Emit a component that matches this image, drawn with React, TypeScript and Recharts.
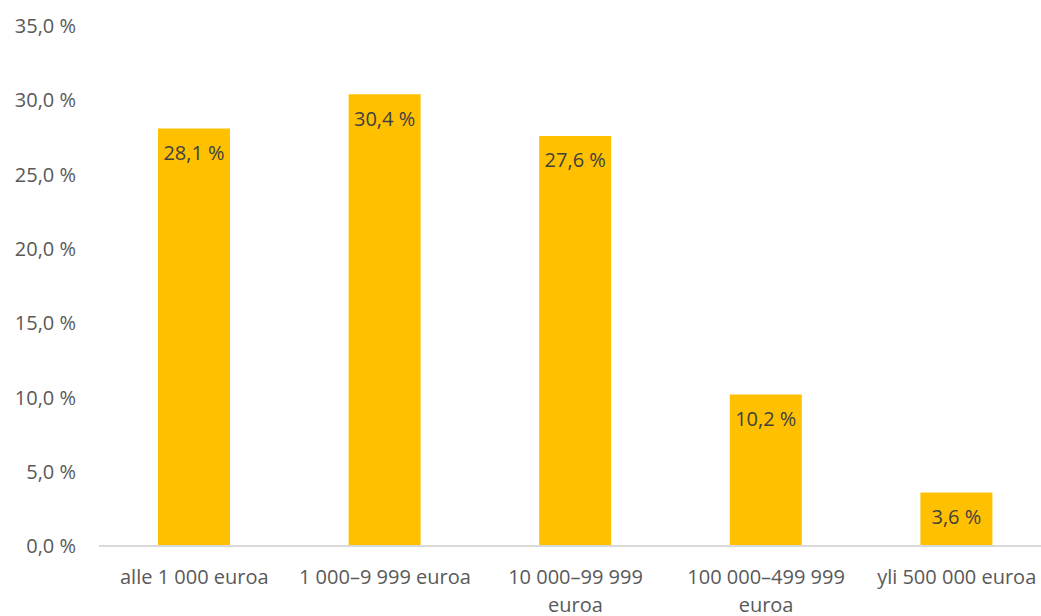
import React from "react";
import { BarChart, Bar, XAxis, YAxis, LabelList } from "recharts";

const categories = [
  "alle 1 000 euroa",
  "1 000–9 999 euroa",
  "10 000–99 999 euroa",
  "100 000–499 999 euroa",
  "yli 500 000 euroa",
];
const shares = [28.1, 30.4, 27.6, 10.2, 3.6];
const yTicks = [0, 5, 10, 15, 20, 25, 30, 35];

const data = categories.map((c, i) => ({ name: c, value: shares[i] }));

const FONT = "'Open Sans', 'Noto Sans', sans-serif";
const fmt = (v: number) => v.toFixed(1).replace(".", ",") + " %";

const wrap = (s: string, maxChars: number) => {
  const words = s.split(" ");
  const lines: string[] = [];
  let cur = "";
  for (const w of words) {
    const next = cur ? cur + " " + w : w;
    if (next.length > maxChars && cur) {
      lines.push(cur);
      cur = w;
    } else {
      cur = next;
    }
  }
  if (cur) lines.push(cur);
  return lines;
};

const XTick = (props: any) => {
  const { x, y, payload } = props;
  const lines = wrap(String(payload.value), 17);
  return (
    <text
      x={x}
      y={y}
      textAnchor="middle"
      fontSize={20}
      fontFamily={FONT}
      fill="#595959"
    >
      {lines.map((l, i) => (
        <tspan key={i} x={x} dy={i === 0 ? "0.71em" : 28}>
          {l}
        </tspan>
      ))}
    </text>
  );
};

const ValueLabel = (props: any) => {
  const { x, y, width, value } = props;
  return (
    <text
      x={x + width / 2}
      y={y + 24}
      textAnchor="middle"
      dominantBaseline="central"
      fontSize={20}
      fontFamily={FONT}
      fill="#404040"
    >
      {fmt(value)}
    </text>
  );
};

export default function App() {
  return (
    <div
      style={{
        position: "fixed",
        left: 0,
        top: 0,
        width: 1041,
        height: 616,
        overflow: "hidden",
        background: "#fff",
      }}
    >
      <BarChart
        width={1060}
        height={616}
        data={data}
        margin={{ top: 26, right: 8, bottom: 0, left: 0 }}
      >
        <XAxis
          dataKey="name"
          axisLine={{ stroke: "#d9d9d9", strokeWidth: 2 }}
          tickLine={false}
          tickSize={0}
          tickMargin={24}
          height={70}
          interval={0}
          tick={<XTick />}
        />
        <YAxis
          domain={[0, 35]}
          ticks={yTicks}
          width={99}
          axisLine={false}
          tickLine={false}
          tickSize={0}
          tickMargin={23}
          tickFormatter={fmt}
          tick={{ fontSize: 20, fontFamily: FONT, fill: "#595959" }}
        />
        <Bar dataKey="value" fill="#FFC000" barSize={72} isAnimationActive={false}>
          <LabelList dataKey="value" content={<ValueLabel />} />
        </Bar>
      </BarChart>
    </div>
  );
}
